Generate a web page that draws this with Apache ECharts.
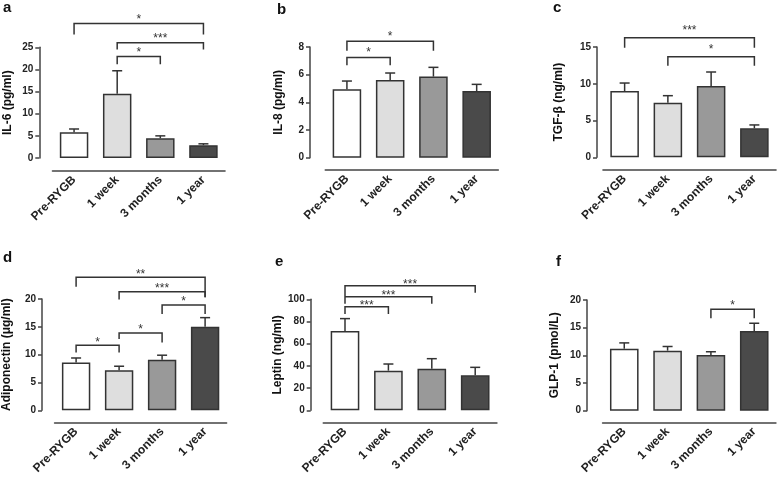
<!DOCTYPE html>
<html><head><meta charset="utf-8">
<script src="https://cdn.jsdelivr.net/npm/echarts@6/dist/echarts.min.js"></script>
<style>html,body{margin:0;padding:0;background:#fff}#c{width:778px;height:479px}</style>
</head><body><div id="c"></div>
<script>
// ---- data ----
const categories = ['Pre-RYGB', '1 week', '3 months', '1 year'];

const il6Mean = [5.8, 14.5, 4.45, 2.9];
const il6Sem = [0.75, 5.2, 0.55, 0.3];
const il6Sig = [[0, 3, 30.4, 27.9, 27.9, '*'], [1, 3, 26.0, 24.5, 24.5, '***'], [1, 2, 22.9, 21.2, 21.2, '*']];

const il8Mean = [4.94, 5.62, 5.86, 4.82];
const il8Sem = [0.6, 0.5, 0.67, 0.48];
const il8Sig = [[0, 2, 8.41, 7.73, 7.73, '*'], [0, 1, 7.25, 6.68, 6.68, '*']];

const tgfMean = [9.0, 7.43, 9.7, 3.94];
const tgfSem = [1.1, 0.95, 1.9, 0.46];
const tgfSig = [[0, 3, 16.27, 14.9, 14.9, '***'], [1, 3, 13.69, 12.46, 12.46, '*']];

const adipoMean = [8.6, 7.2, 9.1, 15.03];
const adipoSem = [0.8, 0.72, 0.8, 1.62];
const adipoSig = [[0, 3, 23.9, 22.2, 20.3, '**'], [1, 3, 21.3, 19.9, 20.3, '***'], [2, 3, 18.9, 17.3, 17.3, '*'], [1, 2, 13.9, 12.8, 12.2, '*'], [0, 1, 11.7, 10.4, 10.4, '*']];

const leptinMean = [71.5, 35.7, 37.5, 31.5];
const leptinSem = [11.1, 6.0, 9.0, 7.2];
const leptinSig = [[0, 3, 112.3, 103, 106, '***'], [0, 2, 102.4, 96, 96.1, '***'], [0, 1, 93.4, 86.8, 86.8, '***']];

const glpMean = [11.2, 10.85, 10.05, 14.4];
const glpSem = [1.05, 0.75, 0.6, 1.4];
const glpSig = [[2, 3, 18.31, 16.69, 16.69, '*']];

const yMax = [25, 8, 15, 20, 100, 20];
const yInterval = [5, 2, 5, 5, 20, 5];
const yNames = ['IL-6 (pg/ml)', 'IL-8 (pg/ml)', 'TGF-β (ng/ml)', 'Adiponectin (μg/ml)', 'Leptin (ng/ml)', 'GLP-1 (pmol/L)'];
const panelLetters = ['a', 'b', 'c', 'd', 'e', 'f'];

// ---- layout / style ----
const FONT = "'Liberation Sans', Arial, sans-serif";
const INK = '#333';
const fills = ['#ffffff', '#dedede', '#999999', '#4a4a4a'];
const panels = [
  {mean: il6Mean, sem: il6Sem, sig: il6Sig, grid: {left: 52.5, top: 47.3, width: 172.5, height: 110.7}, yOff: 13.2, xOff: 13, nameGap: 26, lift: 7, lab: [3, 0]},
  {mean: il8Mean, sem: il8Sem, sig: il8Sig, grid: {left: 325.3, top: 47, width: 173, height: 110.7}, yOff: 15.3, xOff: 12.3, nameGap: 25, lift: 8, lab: [277, 2.5]},
  {mean: tgfMean, sem: tgfSem, sig: tgfSig, grid: {left: 603, top: 47, width: 173, height: 110.3}, yOff: 6, xOff: 12.7, nameGap: 32, lift: 10, lab: [553, 0.5]},
  {mean: adipoMean, sem: adipoSem, sig: adipoSig, grid: {left: 53.3, top: 299, width: 173.3, height: 111.3}, yOff: 12.6, xOff: 12.4, nameGap: 29, lift: 6, lab: [3, 250]},
  {mean: leptinMean, sem: leptinSem, sig: leptinSig, grid: {left: 323.3, top: 299.3, width: 173.6, height: 111}, yOff: 12.6, xOff: 12.4, nameGap: 27, lift: 4, lab: [275, 254]},
  {mean: glpMean, sem: glpSem, sig: glpSig, grid: {left: 602.6, top: 300, width: 173.3, height: 110.7}, yOff: 15.6, xOff: 12, nameGap: 26, lift: 7, lab: [556, 254]}
];

const grid = [], xAxis = [], yAxis = [], series = [], title = [];
panels.forEach((p, k) => {
  grid.push(Object.assign({containLabel: false}, p.grid));
  title.push({text: panelLetters[k], left: p.lab[0], top: p.lab[1], padding: 0,
    textStyle: {fontSize: 15, fontWeight: 'bold', color: '#111', fontFamily: FONT}});
  xAxis.push({
    type: 'category', gridIndex: k, data: categories, offset: p.xOff,
    axisLine: {onZero: false, lineStyle: {color: '#444', width: 1.6}},
    axisTick: {alignWithLabel: true, length: 5, lineStyle: {color: '#444', width: 1.5}},
    axisLabel: {rotate: 45, interval: 0, fontSize: 12, fontWeight: 'bold', color: '#222', margin: 7, fontFamily: FONT}
  });
  yAxis.push({
    type: 'value', gridIndex: k, min: 0, max: yMax[k], interval: yInterval[k], offset: p.yOff,
    axisLine: {show: true, lineStyle: {color: '#444', width: 1.5}},
    axisTick: {show: true, length: 4, lineStyle: {color: '#444', width: 1.5}},
    splitLine: {show: false},
    axisLabel: {fontSize: 10, fontWeight: 'bold', color: '#222', margin: 6, fontFamily: FONT},
    name: yNames[k], nameLocation: 'middle', nameGap: p.nameGap,
    nameTextStyle: {fontSize: 12, fontWeight: 'bold', color: '#111', fontFamily: FONT}
  });
  series.push({
    type: 'bar', xAxisIndex: k, yAxisIndex: k, barWidth: '66%', silent: true,
    data: p.mean.map((v, i) => ({value: v, itemStyle: {color: fills[i], borderColor: INK, borderWidth: 1.5}})),
    z: 2
  });
  series.push({
    type: 'custom', xAxisIndex: k, yAxisIndex: k, silent: true, z: 3,
    data: p.mean.map((v, i) => [i, v, v + p.sem[i]]),
    renderItem: function (params, api) {
      const a = api.coord([api.value(0), api.value(1)]);
      const b = api.coord([api.value(0), api.value(2)]);
      const st = {stroke: INK, lineWidth: 1.5};
      return {type: 'group', children: [
        {type: 'line', shape: {x1: a[0], y1: a[1], x2: b[0], y2: b[1]}, style: st},
        {type: 'line', shape: {x1: b[0] - 5, y1: b[1], x2: b[0] + 5, y2: b[1]}, style: st}
      ]};
    }
  });
  const sig = p.sig;
  series.push({
    type: 'custom', xAxisIndex: k, yAxisIndex: k, silent: true, clip: false, z: 4,
    data: sig.map(s => [s[0], s[1], s[2], s[3], s[4]]),
    renderItem: function (params, api) {
      const s = sig[params.dataIndex];
      const top1 = api.coord([api.value(0), api.value(2)]);
      const top2 = api.coord([api.value(1), api.value(2)]);
      const l = api.coord([api.value(0), api.value(3)]);
      const r = api.coord([api.value(1), api.value(4)]);
      return {type: 'group', children: [
        {type: 'polyline', shape: {points: [l, top1, top2, r]}, style: {stroke: INK, lineWidth: 1.5, fill: null}},
        {type: 'text', x: (top1[0] + top2[0]) / 2, y: top1[1] - (p.lift - 3),
          style: {text: s[5], fontSize: 12, fontFamily: FONT, fill: '#333',
            align: 'center', verticalAlign: 'middle', textAlign: 'center', textVerticalAlign: 'middle'}}
      ]};
    }
  });
});

const chart = echarts.init(document.getElementById('c'), null, {renderer: 'canvas'});
chart.setOption({animation: false, backgroundColor: '#fff', title, grid, xAxis, yAxis, series});
</script></body></html>
